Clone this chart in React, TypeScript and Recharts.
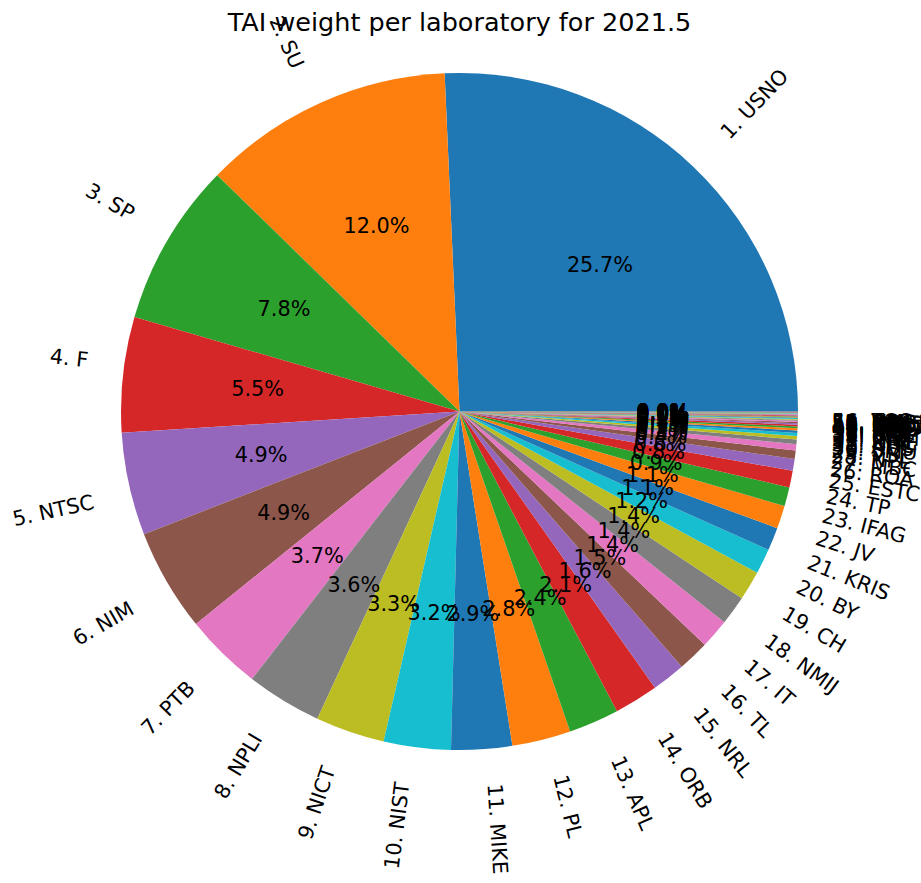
import React from "react";
import { Pie, PieChart } from "recharts";

// TAI weights (%) per laboratory, 2021.5 — ordered largest first
const LABS = [
  "USNO", "SU", "SP", "F", "NTSC", "NIM", "PTB", "NPLI", "NICT", "NIST",
  "MIKE", "PL", "APL", "ORB", "NRL", "TL", "IT", "NMIJ", "CH", "BY",
  "KRIS", "JV", "IFAG", "TP", "ESTC", "ROA", "MBC", "NPL", "VSL", "SMU",
  "AUS", "NRC", "UME", "INTI", "CNM", "SG", "BEV", "IPQ", "NIS", "KIM",
  "LT", "SIQ", "DMDM", "NIMT", "BIM", "CAO", "HKO", "MSL", "ZA", "NIMB",
  "INXE", "UA", "ONRJ", "SCL", "VMI", "TCC",
];

const WEIGHTS = [
  25.7, 12.0, 7.8, 5.5, 4.9, 4.9, 3.7, 3.6, 3.3, 3.2,
  2.9, 2.8, 2.4, 2.1, 1.6, 1.5, 1.4, 1.4, 1.4, 1.2,
  1.1, 1.1, 0.9, 0.8, 0.56, 0.4, 0.3, 0.22, 0.17, 0.14,
  0.12, 0.1, 0.09, 0.08, 0.07, 0.06, 0.05, 0.05, 0.04, 0.04,
  0.03, 0.03, 0.03, 0.03, 0.02, 0.02, 0.02, 0.02, 0.02, 0.02,
  0.02, 0.01, 0.01, 0.01, 0.01, 0.01,
];

const TAB10 = [
  "#1f77b4", "#ff7f0e", "#2ca02c", "#d62728", "#9467bd",
  "#8c564b", "#e377c2", "#7f7f7f", "#bcbd22", "#17becf",
];

const FONT = "'DejaVu Sans', sans-serif";
const LABEL_SIZE = 20.8;

let ctx: CanvasRenderingContext2D | null = null;
function textWidth(s: string, size: number): number {
  if (!ctx) ctx = document.createElement("canvas").getContext("2d");
  if (!ctx) return s.length * size * 0.6;
  ctx.font = `${size}px 'DejaVu Sans'`;
  return ctx.measureText(s).width;
}

const data = WEIGHTS.map((w, i) => ({
  name: `${i + 1}. ${LABS[i]}`,
  value: w,
  fill: TAB10[i % TAB10.length],
}));

// matplotlib-style rotated labels (rotatelabels=True) + autopct inside
function renderLabel(props: any) {
  const { cx, cy, midAngle, outerRadius, percent, name } = props;
  const rad = (midAngle * Math.PI) / 180;
  const xt = cx + outerRadius * 1.1 * Math.cos(rad);
  const ytMath = outerRadius * 1.1 * Math.sin(rad);
  const ys = cy - ytMath;
  const right = xt > cx;
  const rot = midAngle + (right ? 0 : 180);
  const rr = (rot * Math.PI) / 180;
  const w = textWidth(name, LABEL_SIZE);
  const h = LABEL_SIZE;
  const bw = (w * Math.abs(Math.cos(rr)) + h * Math.abs(Math.sin(rr))) / 2;
  const bh = (w * Math.abs(Math.sin(rr)) + h * Math.abs(Math.cos(rr))) / 2;
  const lx = right ? xt + bw : xt - bw;
  const ly = ytMath > 0 ? ys - bh : ys + bh;

  const px = cx + outerRadius * 0.6 * Math.cos(rad);
  const py = cy - outerRadius * 0.6 * Math.sin(rad);
  return (
    <g>
      <text
        x={lx}
        y={ly}
        textAnchor="middle"
        dominantBaseline="central"
        fontFamily={FONT}
        fontSize={LABEL_SIZE}
        fill="#000"
        transform={`rotate(${-rot}, ${lx}, ${ly})`}
      >
        {name}
      </text>
      <text
        x={px}
        y={py}
        textAnchor="middle"
        dominantBaseline="central"
        fontFamily={FONT}
        fontSize={LABEL_SIZE}
        fill="#000"
      >
        {`${(percent * 100).toFixed(1)}%`}
      </text>
    </g>
  );
}

export default function App() {
  return (
    <div style={{ position: "absolute", left: 0, top: 0, width: 921, height: 883, background: "#fff" }}>
      <PieChart width={921} height={883} margin={{ top: 0, right: 0, bottom: 0, left: 0 }}>
        <Pie
          data={data}
          dataKey="value"
          nameKey="name"
          cx={459.5}
          cy={411.5}
          outerRadius={338.5}
          startAngle={0}
          endAngle={360}
          stroke="none"
          labelLine={false}
          label={renderLabel}
          isAnimationActive={false}
        />
      </PieChart>
      <svg width={921} height={50} style={{ position: "absolute", left: 0, top: 0, overflow: "visible" }}>
        <text x={459.5} y={31} textAnchor="middle" fontFamily={FONT} fontSize={25.5} fill="#000">
          TAI weight per laboratory for 2021.5
        </text>
      </svg>
    </div>
  );
}
